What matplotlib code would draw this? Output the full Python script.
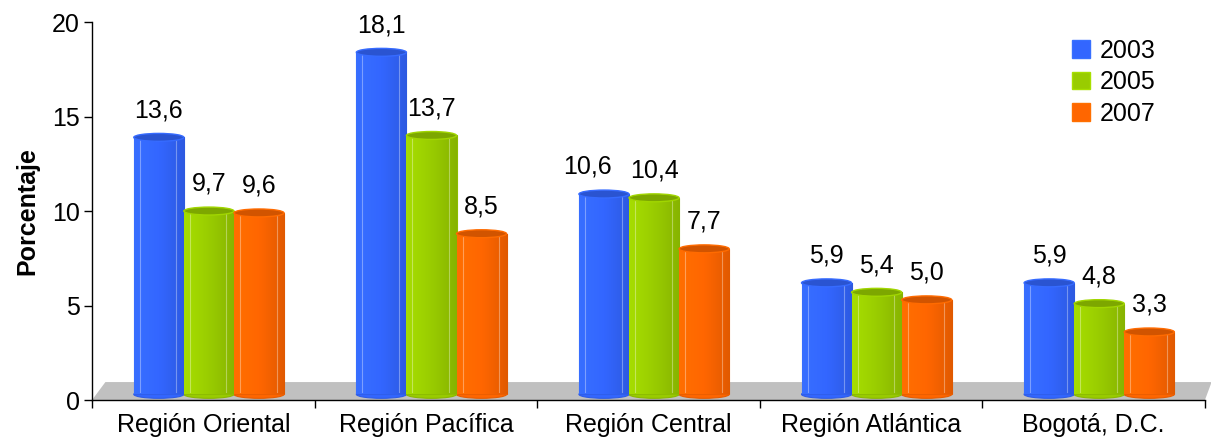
import numpy as np
import matplotlib
matplotlib.use("Agg")
import matplotlib.pyplot as plt
from matplotlib.patches import Ellipse, Patch, Polygon
from matplotlib.colors import to_rgb

plt.rcParams['font.family'] = ['Liberation Sans', 'DejaVu Sans']

categories = ["Región Oriental", "Región Pacífica", "Región Central", "Región Atlántica", "Bogotá, D.C."]
years = ["2003", "2005", "2007"]
v2003 = [13.6, 18.1, 10.6, 5.9, 5.9]
v2005 = [9.7, 13.7, 10.4, 5.4, 4.8]
v2007 = [9.6, 8.5, 7.7, 5.0, 3.3]
series = [v2003, v2005, v2007]
colors = ["#3366FF", "#99CC00", "#FF6600"]
yticks = [0, 5, 10, 15, 20]

FS = 18
# horizontal nudge (points) for labels that would collide: (series, category) -> dx
label_nudge = {(0, 2): -12}

fig = plt.figure(figsize=(12.11, 4.42), dpi=100)
ax = fig.add_axes([0.076, 0.095, 0.919, 0.855])
ax.set_xlim(-0.5, 4.5)
ax.set_ylim(0, 20)

# grey floor
floor = Polygon([(-0.5, 0), (4.5, 0), (4.53, 0.95), (-0.44, 0.95)], closed=True,
                facecolor="#C0C0C0", edgecolor="none", zorder=1, clip_on=False)
ax.add_patch(floor)

width = 0.225
offsets = [-0.2, 0.025, 0.25]
depth = 0.3
cap_h = 0.42
x = np.arange(len(categories))

def shade(c, f):
    r = np.array(to_rgb(c))
    return tuple(np.clip(r * f, 0, 1))

for s, (vals, col, off) in enumerate(zip(series, colors, offsets)):
    xs = x + off
    for xi, v in zip(xs, vals):
        # bottom cap
        ax.add_patch(Ellipse((xi, depth), width, cap_h, facecolor=col,
                             edgecolor=shade(col, 0.9), lw=0.8, zorder=2))
    bars = ax.bar(xs, vals, width=width, bottom=depth, color=col,
                  edgecolor=shade(col, 0.92), linewidth=0.8, zorder=3)
    for ci, (b, xi, v) in enumerate(zip(bars, xs, vals)):
        # horizontal cylinder gradient
        grad = np.linspace(0, 1, 64)
        fac = 1.08 - 0.2 * grad ** 1.3
        base = np.array(to_rgb(col))
        img = np.clip(base[None, :] * fac[:, None], 0, 1)[None, :, :]
        im = ax.imshow(img, extent=(xi - width / 2, xi + width / 2, depth, depth + v),
                       aspect='auto', zorder=3.5, interpolation='bilinear')
        im.set_clip_path(b)
        for fx in (0.12, 0.85):
            ax.plot([xi - width / 2 + fx * width] * 2, [depth + 0.1, depth + v - 0.1],
                    color=(1, 1, 1, 0.35), lw=0.8, zorder=3.6)
        # top cap
        ax.add_patch(Ellipse((xi, depth + v), width, cap_h, facecolor=shade(col, 0.82),
                             edgecolor=shade(col, 1.05), lw=1.0, zorder=4))
        dx = label_nudge.get((s, ci), 0)
        ax.annotate(f"{v:.1f}".replace(".", ","), xy=(xi, depth + v + cap_h / 2),
                    xytext=(dx, 8), textcoords="offset points", ha="center",
                    va="bottom", fontsize=FS, zorder=5)

ax.set_yticks(yticks)
ax.set_yticklabels([str(t) for t in yticks], fontsize=FS)
ax.set_xticks(x)
ax.set_xticklabels(categories, fontsize=FS)
ax.set_xticks(np.arange(-0.5, 4.6, 1), minor=True)
ax.tick_params(axis='x', which='major', length=0, pad=9)
ax.tick_params(axis='x', which='minor', length=6, direction='out', width=1)
ax.tick_params(axis='y', length=6, direction='out', width=1, pad=3)
ax.set_ylabel("Porcentaje", fontsize=18, fontweight='bold', labelpad=9)
for sp in ("top", "right"):
    ax.spines[sp].set_visible(False)
ax.spines['left'].set_linewidth(1)
ax.spines['bottom'].set_linewidth(1)
ax.spines['bottom'].set_zorder(6)

handles = [Patch(facecolor=c, edgecolor=shade(c, 1.1), label=y) for c, y in zip(colors, years)]
ax.legend(handles=handles, loc="upper right", bbox_to_anchor=(0.976, 1.015), frameon=False,
          fontsize=FS, handlelength=0.7, handleheight=0.7, handletextpad=0.4,
          labelspacing=0.3)

fig.savefig("out.png", dpi=100)
